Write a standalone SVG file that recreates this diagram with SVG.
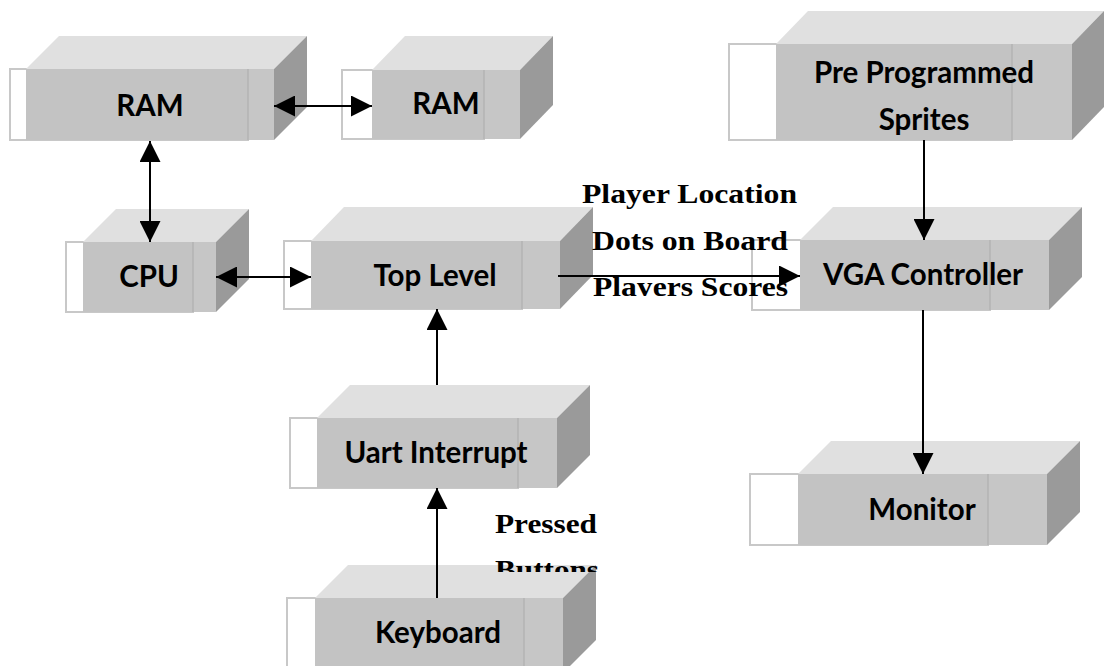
<svg xmlns="http://www.w3.org/2000/svg" width="1109" height="666" viewBox="0 0 1109 666">
<style>
.ol{fill:#fff;stroke:#c8c8c8;stroke-width:2}
.fr{fill:#c3c3c3}
.bd{fill:#c6c6c6}
.sep{stroke:#b3b3b3;stroke-width:1.5}
.tp{fill:#e0e0e0}
.rt{fill:#9a9a9a}
.lb{font-family:Lato,"Liberation Sans",sans-serif;font-weight:bold;font-size:29.5px;fill:#000;text-anchor:middle}
.sl{font-family:"Liberation Serif","Times New Roman",serif;font-weight:bold;font-size:28px;fill:#000}
.cn{stroke:#000;stroke-width:2;fill:none}
</style>
<defs>
<marker id="ah" viewBox="0 0 21 21" markerWidth="21" markerHeight="21" refX="21" refY="10.5" orient="auto-start-reverse" markerUnits="userSpaceOnUse">
<path d="M0,0 L21,10.5 L0,21 z" fill="#000"/>
</marker>
<clipPath id="c1"><rect x="570" y="170" width="240" height="126"/></clipPath>
<clipPath id="c2"><rect x="490" y="500" width="110" height="72"/></clipPath>
</defs>
<rect width="1109" height="666" fill="#fff"/>

<g id="ram1">
<rect class="ol" x="10" y="69" width="238" height="71"/>
<rect class="fr" x="26" y="69" width="248" height="71"/>
<rect class="bd" x="248" y="69" width="26" height="71"/>
<line class="sep" x1="248" y1="69" x2="248" y2="140"/>
<polygon class="tp" points="26,69 59,36 307,36 274,69"/>
<polygon class="rt" points="274,69 307,36 307,107 274,140"/>
<text class="lb" x="150" y="116">RAM</text>
</g>

<g id="ram2">
<rect class="ol" x="342" y="70" width="142" height="69"/>
<rect class="fr" x="372" y="70" width="148" height="69"/>
<rect class="bd" x="484" y="70" width="36" height="69"/>
<line class="sep" x1="484" y1="70" x2="484" y2="139"/>
<polygon class="tp" points="372,70 405,36 553,36 520,70"/>
<polygon class="rt" points="520,70 553,36 553,105 520,139"/>
<text class="lb" x="446" y="114">RAM</text>
</g>

<g id="sprites">
<rect class="ol" x="729" y="44" width="283" height="96"/>
<rect class="fr" x="776" y="44" width="296" height="96"/>
<rect class="bd" x="1012" y="44" width="60" height="96"/>
<line class="sep" x1="1012" y1="44" x2="1012" y2="140"/>
<polygon class="tp" points="776,44 808,11 1104,11 1072,44"/>
<polygon class="rt" points="1072,44 1104,11 1104,107 1072,140"/>
<text class="lb" x="924" y="83">Pre Programmed</text>
<text class="lb" x="924" y="130">Sprites</text>
</g>

<g id="cpu">
<rect class="ol" x="66" y="242" width="127" height="70"/>
<rect class="fr" x="83" y="242" width="133" height="70"/>
<rect class="bd" x="193" y="242" width="23" height="70"/>
<line class="sep" x1="193" y1="242" x2="193" y2="312"/>
<polygon class="tp" points="83,242 116,209 249,209 216,242"/>
<polygon class="rt" points="216,242 249,209 249,279 216,312"/>
<text class="lb" x="149" y="287">CPU</text>
</g>

<g id="toplevel">
<rect class="ol" x="284" y="241" width="238" height="68"/>
<rect class="fr" x="311" y="241" width="249" height="68"/>
<rect class="bd" x="522" y="241" width="38" height="68"/>
<line class="sep" x1="522" y1="241" x2="522" y2="309"/>
<polygon class="tp" points="311,241 344,207 593,207 560,241"/>
<polygon class="rt" points="560,241 593,207 593,275 560,309"/>
<text class="lb" x="435" y="286">Top Level</text>
</g>

<g id="vga">
<rect class="ol" x="752" y="240" width="238" height="70"/>
<rect class="fr" x="800" y="240" width="249" height="70"/>
<rect class="bd" x="990" y="240" width="59" height="70"/>
<line class="sep" x1="990" y1="240" x2="990" y2="310"/>
<polygon class="tp" points="800,240 833,207 1082,207 1049,240"/>
<polygon class="rt" points="1049,240 1082,207 1082,277 1049,310"/>
<text class="lb" x="923" y="285">VGA Controller</text>
</g>

<g id="uart">
<rect class="ol" x="290" y="418" width="228" height="70"/>
<rect class="fr" x="317" y="418" width="240" height="70"/>
<rect class="bd" x="518" y="418" width="39" height="70"/>
<line class="sep" x1="518" y1="418" x2="518" y2="488"/>
<polygon class="tp" points="317,418 350,385 590,385 557,418"/>
<polygon class="rt" points="557,418 590,385 590,455 557,488"/>
<text class="lb" x="436" y="463">Uart Interrupt</text>
</g>

<g id="keyboard">
<rect class="ol" x="287" y="598" width="237" height="75"/>
<rect class="fr" x="315" y="598" width="248" height="75"/>
<rect class="bd" x="524" y="598" width="39" height="75"/>
<line class="sep" x1="524" y1="598" x2="524" y2="673"/>
<polygon class="tp" points="315,598 348,565 596,565 563,598"/>
<polygon class="rt" points="563,598 596,565 596,640 563,673"/>
<text class="lb" x="438" y="643">Keyboard</text>
</g>

<g id="monitor">
<rect class="ol" x="750" y="474" width="238" height="71"/>
<rect class="fr" x="798" y="474" width="249" height="71"/>
<rect class="bd" x="988" y="474" width="59" height="71"/>
<line class="sep" x1="988" y1="474" x2="988" y2="545"/>
<polygon class="tp" points="798,474 831,441 1080,441 1047,474"/>
<polygon class="rt" points="1047,474 1080,441 1080,512 1047,545"/>
<text class="lb" x="922" y="520">Monitor</text>
</g>

<g id="labels">
<g clip-path="url(#c1)">
<text class="sl" x="582" y="203" textLength="215" lengthAdjust="spacingAndGlyphs">Player Location</text>
<text class="sl" x="592" y="250" textLength="196" lengthAdjust="spacingAndGlyphs">Dots on Board</text>
<text class="sl" x="593" y="296" textLength="195" lengthAdjust="spacingAndGlyphs">Players Scores</text>
</g>
<g clip-path="url(#c2)">
<text class="sl" x="495" y="533" textLength="102" lengthAdjust="spacingAndGlyphs">Pressed</text>
<text class="sl" x="495" y="579" textLength="104" lengthAdjust="spacingAndGlyphs">Buttons</text>
</g>
</g>

<g id="connectors">
<line class="cn" x1="274" y1="106" x2="372" y2="106" marker-start="url(#ah)" marker-end="url(#ah)"/>
<line class="cn" x1="150" y1="141" x2="150" y2="242" marker-start="url(#ah)" marker-end="url(#ah)"/>
<line class="cn" x1="216" y1="277" x2="311" y2="277" marker-start="url(#ah)" marker-end="url(#ah)"/>
<line class="cn" x1="558" y1="276" x2="800" y2="276" marker-end="url(#ah)"/>
<line class="cn" x1="437" y1="385" x2="437" y2="309" marker-end="url(#ah)"/>
<line class="cn" x1="437" y1="598" x2="437" y2="488" marker-end="url(#ah)"/>
<line class="cn" x1="924" y1="140" x2="924" y2="240" marker-end="url(#ah)"/>
<line class="cn" x1="923" y1="310" x2="923" y2="474" marker-end="url(#ah)"/>
</g>
</svg>
